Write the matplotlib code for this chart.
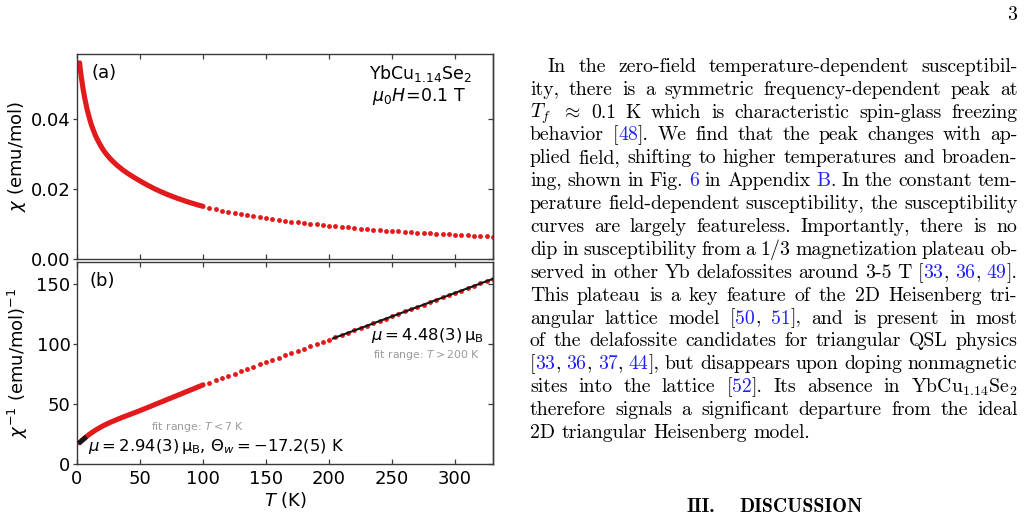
import numpy as np
import matplotlib
matplotlib.use("Agg")
import matplotlib.pyplot as plt

# ---------------- data ----------------
T_dense = [2, 2.5, 3, 3.5, 4, 4.5, 5, 5.5, 6, 6.5, 7, 7.5, 8, 9, 10, 11, 12, 13, 14, 15,
           16, 17, 18, 19, 20, 22, 24, 26, 28, 30, 32, 34, 36, 38, 40, 42, 44, 46, 48, 50,
           52, 54, 56, 58, 60, 62, 64, 66, 68, 70, 72, 74, 76, 78, 80, 82, 84, 86, 88, 90,
           92, 94, 96, 98, 100]
chi_inv_dense = [17.8, 18.3, 18.8, 19.3, 19.7, 20.2, 20.7, 21.1, 21.6, 22.0, 22.4, 22.9, 23.3,
                 24.1, 24.9, 25.7, 26.4, 27.1, 27.8, 28.5, 29.1, 29.7, 30.3, 30.9, 31.5,
                 32.6, 33.6, 34.6, 35.5, 36.4, 37.3, 38.1, 39.0, 39.8, 40.6, 41.4, 42.2,
                 43.0, 43.8, 44.6, 45.5, 46.3, 47.2, 48.0, 48.9, 49.8, 50.6, 51.5, 52.3,
                 53.2, 54.1, 54.9, 55.8, 56.6, 57.5, 58.3, 59.2, 60.1, 60.9, 61.8, 62.6,
                 63.5, 64.4, 65.2, 66.1]
T_sparse = [105, 110, 115, 120, 125, 130, 135, 140, 145, 150, 155, 160, 165, 170, 175, 180,
            185, 190, 195, 200, 205, 210, 215, 220, 225, 230, 235, 240, 245, 250, 255, 260,
            265, 270, 275, 280, 285, 290, 295, 300, 305, 310, 315, 320, 325, 330]
chi_inv_sparse = [68.0, 69.9, 71.8, 73.7, 75.6, 77.5, 79.4, 81.3, 83.2, 85.1, 87.0, 88.9,
                  90.8, 92.6, 94.5, 96.4, 98.3, 100.2, 102.1, 104.0, 105.9, 107.9, 109.8,
                  111.8, 113.7, 115.7, 117.6, 119.6, 121.5, 123.5, 125.4, 127.4, 129.3,
                  131.3, 133.2, 135.2, 137.1, 139.1, 141.0, 143.0, 144.9, 146.9, 148.8,
                  150.8, 152.7, 154.7]
fit_low_T = [1.2, 7.5]
fit_low_y = [17.1, 22.8]
fit_high_T = [203, 330]
fit_high_y = [104.9, 154.7]

x_ticks = [0, 50, 100, 150, 200, 250, 300]
a_yticks = [0.00, 0.02, 0.04]
a_yticklabels = ["0.00", "0.02", "0.04"]
b_yticks = [0, 50, 100, 150]

RED = "#e31a1c"
SPINE = "#3a3a3a"

W, H = 1026, 518
fig = plt.figure(figsize=(W / 100, H / 100), dpi=100)


def rect(l, t, r, b):
    return [l / W, 1 - b / H, (r - l) / W, (b - t) / H]


axa = fig.add_axes(rect(77, 54, 493, 259.3))
axb = fig.add_axes(rect(77, 261.7, 493, 464))

chi_dense = 1.0 / np.array(chi_inv_dense)
chi_sparse = 1.0 / np.array(chi_inv_sparse)

# panel (a)
axa.plot(T_dense, chi_dense, "-", color=RED, lw=3.7, solid_capstyle="round",
         solid_joinstyle="round", zorder=2)
axa.plot(T_sparse, chi_sparse, "o", color=RED, ms=3.5, mew=0, zorder=2)
axa.set_xlim(0, 330)
axa.set_ylim(0, 0.0587)

# panel (b)
axb.plot(T_dense, chi_inv_dense, "-", color=RED, lw=3.7, solid_capstyle="round",
         solid_joinstyle="round", zorder=2)
axb.plot(T_sparse, chi_inv_sparse, "o", color=RED, ms=3.5, mew=0, zorder=2)
axb.plot(fit_low_T, fit_low_y, "-", color="#151515", lw=3.4, solid_capstyle="butt", zorder=3)
axb.plot(fit_high_T, fit_high_y, "-", color="#151515", lw=1.5, zorder=3)
axb.set_xlim(0, 330)
axb.set_ylim(0, 169)

for ax, yt in ((axa, a_yticks), (axb, b_yticks)):
    for sp in ax.spines.values():
        sp.set_color(SPINE)
        sp.set_linewidth(1.0)
    ax.set_xticks(x_ticks)
    ax.set_yticks(yt)
    ax.tick_params(axis="x", direction="in", top=True, bottom=True, length=3.5,
                   width=0.9, color=SPINE, labelsize=13, pad=4)
    ax.tick_params(axis="y", direction="out", left=True, right=False, length=3.2,
                   width=0.9, color=SPINE, labelsize=13, pad=1.5)
    sec = ax.secondary_yaxis("right")
    sec.set_yticks(yt)
    sec.tick_params(axis="y", direction="in", length=3.5, width=0.9, color=SPINE,
                    labelright=False)
    sec.spines["right"].set_color(SPINE)
    sec.spines["right"].set_linewidth(1.0)

axa.set_yticklabels(a_yticklabels)
axa.tick_params(axis="x", labelbottom=False)

axa.set_ylabel(r"$\chi$ (emu/mol)", fontsize=13)
axb.set_ylabel(r"$\chi^{-1}$ (emu/mol)$^{-1}$", fontsize=13)
axa.yaxis.set_label_coords(-0.118, 0.5)
axb.yaxis.set_label_coords(-0.112, 0.5)
axb.set_xlabel(r"$T$ (K)", fontsize=13, labelpad=2)

# annotations
axa.text(0.034, 0.906, "(a)", transform=axa.transAxes, fontsize=13, va="center", ha="left")
axa.text(0.825, 0.905, r"YbCu$_{1.14}$Se$_2$", transform=axa.transAxes, fontsize=12.5,
         va="center", ha="center")
axa.text(0.822, 0.795, r"$\mu_0H\!=\!0.1$ T", transform=axa.transAxes, fontsize=12.5,
         va="center", ha="center")
axb.text(0.029, 0.905, "(b)", transform=axb.transAxes, fontsize=13, va="center", ha="left")
axb.text(0.843, 0.635, r"$\mu=4.48(3)\,$μ$_\mathrm{B}$", transform=axb.transAxes,
         fontsize=11.8, va="center", ha="center")
axb.text(0.839, 0.538, r"fit range: $T>200$ K", transform=axb.transAxes, fontsize=7.8,
         color="#9a9a9a", va="center", ha="center")
axb.text(0.289, 0.183, r"fit range: $T<7$ K", transform=axb.transAxes, fontsize=7.8,
         color="#9a9a9a", va="center", ha="center")
axb.text(0.027, 0.088, r"$\mu=2.94(3)\,$μ$_\mathrm{B}$, $\Theta_w=-17.2(5)$ K",
         transform=axb.transAxes, fontsize=11.8, va="center", ha="left")

# ---------------- right column text ----------------
renderer = fig.canvas.get_renderer()


def measure(s, fs, family="cmr10"):
    t = fig.text(0, 0, s, fontsize=fs, family=family, math_fontfamily="cm")
    w = t.get_window_extent(renderer).width
    t.remove()
    return w


last_line = "2D triangular Heisenberg model."
FS = 10 * 282.0 / measure(last_line, 10)

lines = [
    "In the zero-field temperature-dependent susceptibil-",
    "ity, there is a symmetric frequency-dependent peak at",
    r"$T_f$ $\approx$ 0.1 K which is characteristic spin-glass freezing",
    "behavior [#48#]. We find that the peak changes with ap-",
    "plied field, shifting to higher temperatures and broaden-",
    "ing, shown in Fig. #6# in Appendix #B#. In the constant tem-",
    "perature field-dependent susceptibility, the susceptibility",
    "curves are largely featureless. Importantly, there is no",
    r"dip in susceptibility from a $1/3$ magnetization plateau ob-",
    "served in other Yb delafossites around 3-5 T [#33#, #36#, #49#].",
    "This plateau is a key feature of the 2D Heisenberg tri-",
    "angular lattice model [#50#, #51#], and is present in most",
    "of the delafossite candidates for triangular QSL physics",
    "[#33#, #36#, #37#, #44#], but disappears upon doping nonmagnetic",
    r"sites into the lattice [#52#]. Its absence in YbCu$_{1.14}$Se$_2$",
    "therefore signals a significant departure from the ideal",
    last_line,
]

X_L, X_R = 530.0, 1017.5
Y0, DY = 71.7, 22.9
BLUE = "#1f1fff"


def word_segments(word):
    parts = word.split("#")
    return [(p, BLUE if i % 2 else "black") for i, p in enumerate(parts) if p]


for k, line in enumerate(lines):
    words = [word_segments(w) for w in line.split(" ")]
    widths = [[measure(s, FS) for s, _ in wd] for wd in words]
    tot = sum(sum(w) for w in widths)
    xl = X_L + (18.0 if k == 0 else 0.0)
    if k == len(lines) - 1:
        gap = measure("a b", FS) - measure("ab", FS)
    else:
        gap = (X_R - xl - tot) / (len(words) - 1)
    yb = Y0 + DY * k
    x = xl
    for wd, ws in zip(words, widths):
        for (s, c), w in zip(wd, ws):
            fig.text(x / W, 1 - yb / H, s, fontsize=FS, family="cmr10", math_fontfamily="cm",
                     color=c, ha="left", va="baseline")
            x += w
        x += gap

# page number
fig.text(1017.5 / W, 1 - 20.0 / H, "3", fontsize=FS, family="cmr10", ha="right", va="baseline")

# section heading
w1 = measure("III.", FS, "cmb10")
w2 = measure("DISCUSSION", FS, "cmb10")
quad = 24.0
xs = 774.5 - (w1 + quad + w2) / 2
fig.text(xs / W, 1 - 511.7 / H, "III.", fontsize=FS, family="cmb10", ha="left", va="baseline")
fig.text((xs + w1 + quad) / W, 1 - 511.7 / H, "DISCUSSION", fontsize=FS, family="cmb10",
         ha="left", va="baseline")

fig.savefig("out.png", dpi=100)
